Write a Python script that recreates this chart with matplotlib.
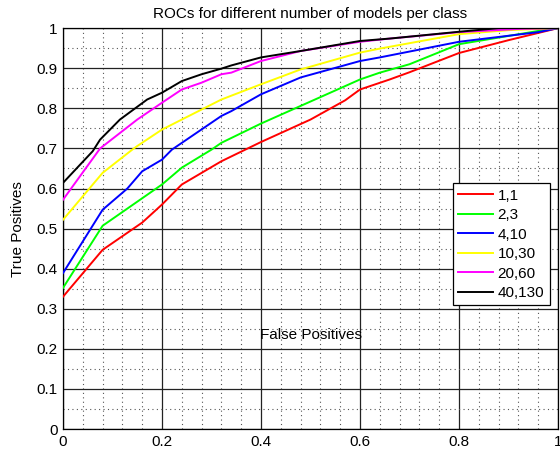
import numpy as np
import matplotlib
matplotlib.use("Agg")
import matplotlib.pyplot as plt
from matplotlib.ticker import MultipleLocator

plt.rcParams["font.family"] = ["Liberation Sans", "DejaVu Sans"]

# ROC points (false positive rate, true positive rate) for each model setting
fpr_11  = [0.0, 0.08, 0.16, 0.20, 0.24, 0.32, 0.40, 0.50, 0.57, 0.60, 0.66, 0.70, 0.80, 0.90, 1.0]
tpr_11  = [0.33, 0.447, 0.515, 0.56, 0.61, 0.668, 0.716, 0.772, 0.82, 0.847, 0.872, 0.89, 0.938, 0.97, 1.0]

fpr_23  = [0.0, 0.08, 0.20, 0.24, 0.30, 0.32, 0.40, 0.48, 0.60, 0.64, 0.70, 0.80, 0.96, 1.0]
tpr_23  = [0.352, 0.507, 0.61, 0.652, 0.697, 0.714, 0.762, 0.806, 0.872, 0.889, 0.91, 0.96, 0.993, 1.0]

fpr_410 = [0.0, 0.08, 0.13, 0.16, 0.20, 0.22, 0.32, 0.34, 0.40, 0.48, 0.60, 0.64, 0.80, 0.96, 1.0]
tpr_410 = [0.389, 0.547, 0.60, 0.643, 0.672, 0.697, 0.781, 0.793, 0.835, 0.877, 0.918, 0.927, 0.966, 0.99, 1.0]

fpr_1030 = [0.0, 0.08, 0.14, 0.15, 0.20, 0.28, 0.32, 0.40, 0.48, 0.60, 0.64, 0.80, 0.90, 1.0]
tpr_1030 = [0.522, 0.639, 0.697, 0.706, 0.747, 0.797, 0.822, 0.86, 0.897, 0.939, 0.949, 0.985, 0.995, 1.0]

fpr_2060 = [0.0, 0.075, 0.15, 0.20, 0.24, 0.28, 0.32, 0.34, 0.40, 0.48, 0.60, 0.66, 0.80, 0.92, 1.0]
tpr_2060 = [0.572, 0.70, 0.772, 0.814, 0.847, 0.864, 0.885, 0.889, 0.918, 0.943, 0.966, 0.974, 0.99, 0.998, 1.0]

fpr_40130 = [0.0, 0.06, 0.075, 0.115, 0.17, 0.20, 0.24, 0.28, 0.32, 0.34, 0.40, 0.48, 0.60, 0.66, 0.80, 0.88, 1.0]
tpr_40130 = [0.614, 0.693, 0.722, 0.772, 0.822, 0.839, 0.868, 0.885, 0.899, 0.907, 0.927, 0.943, 0.968, 0.974, 0.991, 1.0, 1.0]

labels = ["1,1", "2,3", "4,10", "10,30", "20,60", "40,130"]
colors = ["#ff0000", "#00ff00", "#0000ff", "#ffff00", "#ff00ff", "#000000"]
curves = [(fpr_11, tpr_11), (fpr_23, tpr_23), (fpr_410, tpr_410),
          (fpr_1030, tpr_1030), (fpr_2060, tpr_2060), (fpr_40130, tpr_40130)]

fig = plt.figure(figsize=(5.6, 4.54), dpi=100)
ax = fig.add_axes([0.1125, 0.055, 0.884, 0.883])

for (x, y), c, lab in zip(curves, colors, labels):
    ax.plot(x, y, color=c, linewidth=1.4, label=lab, zorder=3)

ax.set_xlim(0, 1)
ax.set_ylim(0, 1)
ax.xaxis.set_major_locator(MultipleLocator(0.2))
ax.yaxis.set_major_locator(MultipleLocator(0.1))
ax.xaxis.set_minor_locator(MultipleLocator(0.04))
ax.yaxis.set_minor_locator(MultipleLocator(0.05))
ax.xaxis.set_major_formatter(plt.FuncFormatter(lambda v, p: f"{v:g}"))
ax.yaxis.set_major_formatter(plt.FuncFormatter(lambda v, p: f"{v:g}"))

ax.grid(which="major", color="#222222", linewidth=0.9, linestyle="-")
ax.grid(which="minor", color="#555555", linewidth=0.8, linestyle=(0, (1, 3)))
ax.set_axisbelow(True)
ax.tick_params(which="both", direction="in", length=0, labelsize=11, pad=4)
for s in ax.spines.values():
    s.set_color("black")
    s.set_linewidth(0.9)

ax.set_title("ROCs for different number of models per class", fontsize=11, pad=7)
ax.set_ylabel("True Positives", fontsize=11, labelpad=8)
ax.text(0.5, 0.235, "False Positives", ha="center", va="center", fontsize=11)

leg = ax.legend(loc="upper left", bbox_to_anchor=(0.787, 0.613), fontsize=11,
                frameon=True, fancybox=False, edgecolor="black", framealpha=1,
                handlelength=2.3, handletextpad=0.3, labelspacing=0.36,
                borderpad=0.35, borderaxespad=0)
leg.get_frame().set_linewidth(0.9)

fig.savefig("out.png", dpi=100)
